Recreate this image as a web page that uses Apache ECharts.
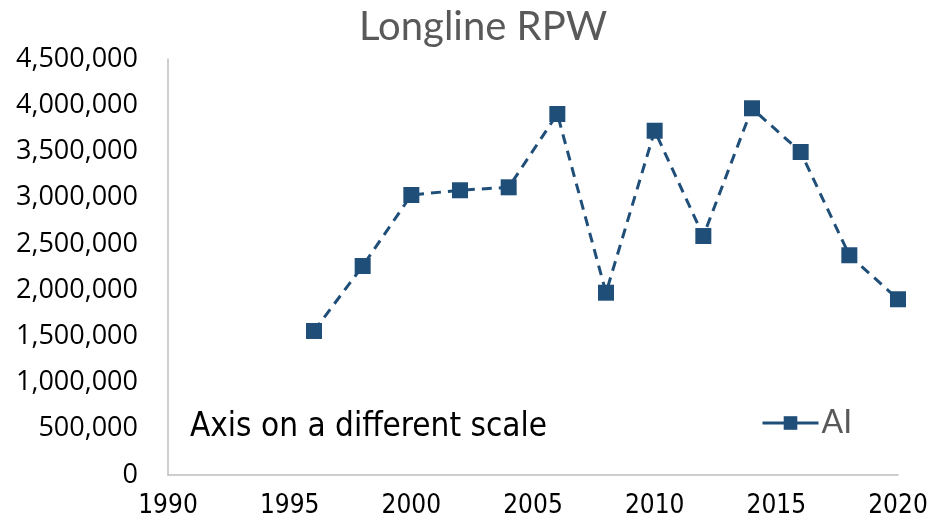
<!DOCTYPE html>
<html>
<head>
<meta charset="utf-8">
<script src="https://cdn.jsdelivr.net/npm/echarts@6/dist/echarts.min.js"></script>
<style>
  html, body { margin: 0; padding: 0; background: #fff; }
  #chart { width: 942px; height: 528px; }
</style>
</head>
<body>
<div id="chart"></div>
<script>
// data
const years = [1996, 1998, 2000, 2002, 2004, 2006, 2008, 2010, 2012, 2014, 2016, 2018, 2020]
const rpw = [1558000, 2261000, 3029000, 3080000, 3112000, 3905000, 1972000, 3724000, 2585000, 3967000, 3494000, 2377000, 1901000]
const seriesName = 'AI'
const yTicks = [0, 500000, 1000000, 1500000, 2000000, 2500000, 3000000, 3500000, 4000000, 4500000]
const xTicks = [1990, 1995, 2000, 2005, 2010, 2015, 2020]

const narrow = 'Liberation Sans Narrow, DejaVu Sans Condensed, sans-serif'

const chart = echarts.init(document.getElementById('chart'))

const option = {
  animation: false,
  title: {
    text: 'Longline RPW',
    left: 354,
    top: 2,
    textStyle: { fontFamily: 'Lato', fontSize: 40, fontWeight: 'normal', color: '#595959' }
  },
  legend: {
    data: [seriesName],
    left: 756,
    top: 402,
    itemWidth: 56,
    itemHeight: 17,
    itemGap: 6,
    lineStyle: { type: 'solid', width: 3 },
    textStyle: { fontFamily: 'Lato', fontSize: 32, color: '#595959', padding: [0, 0, 0, -2] }
  },
  grid: { left: 168, right: 44, top: 59, bottom: 53 },
  xAxis: {
    type: 'value',
    min: xTicks[0],
    max: xTicks[xTicks.length - 1],
    interval: 5,
    axisLine: { show: true, lineStyle: { color: '#bfbfbf', width: 1.5 } },
    axisTick: { show: false },
    splitLine: { show: false },
    axisLabel: {
      margin: 18,
      fontFamily: narrow,
      fontSize: 26,
      color: '#000',
      formatter: v => String(v)
    }
  },
  yAxis: {
    type: 'value',
    min: yTicks[0],
    max: yTicks[yTicks.length - 1],
    interval: 500000,
    axisLine: { show: true, lineStyle: { color: '#bfbfbf', width: 1.5 } },
    axisTick: { show: false },
    splitLine: { show: false },
    axisLabel: {
      margin: 30,
      fontFamily: 'Open Sans',
      fontSize: 27,
      color: '#000',
      formatter: v => v.toLocaleString('en-US')
    }
  },
  graphic: [
    {
      type: 'text',
      left: 190,
      top: 411,
      style: { text: 'Axis on a different scale', fontFamily: narrow, fontSize: 33, fill: '#000' }
    }
  ],
  series: [
    {
      name: seriesName,
      type: 'line',
      data: years.map((y, i) => [y, rpw[i]]),
      symbol: 'rect',
      symbolSize: 16,
      itemStyle: { color: '#1f4e79' },
      lineStyle: { color: '#1f4e79', width: 3, type: [10, 7] }
    }
  ]
}

chart.setOption(option)
</script>
</body>
</html>
